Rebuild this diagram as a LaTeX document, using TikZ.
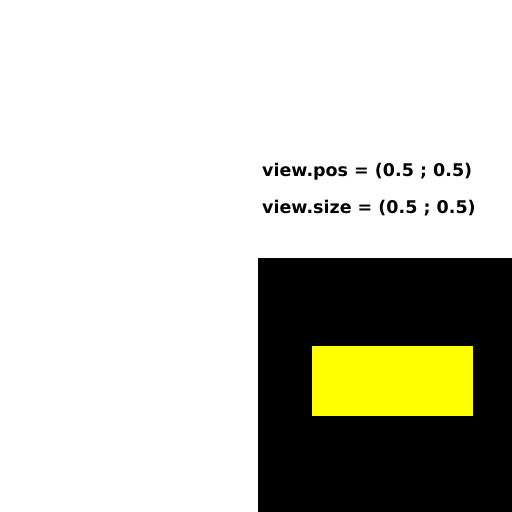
\documentclass[tikz,border=0pt]{standalone}
\usepackage{fontspec}
\setmainfont{DejaVu Sans}
\definecolor{pureyellow}{RGB}{255,255,0}
\begin{document}
\begin{tikzpicture}[x=1pt,y=-1pt,
  lbl/.style={anchor=west,inner sep=0pt,font=\fontsize{17.5}{21}\selectfont\bfseries}]
\useasboundingbox (0,0) rectangle (512,512);
\fill[white] (0,0) rectangle (512,512);
\fill[black] (258,258) rectangle (512,512);
\fill[pureyellow] (312,346) rectangle (472.5,416);
\node[lbl] (pos) at (262,172) {view.pos = (0.5 ; 0.5)};
\node[lbl] (size) at (262,208) {view.size = (0.5 ; 0.5)};
\end{tikzpicture}
\end{document}
